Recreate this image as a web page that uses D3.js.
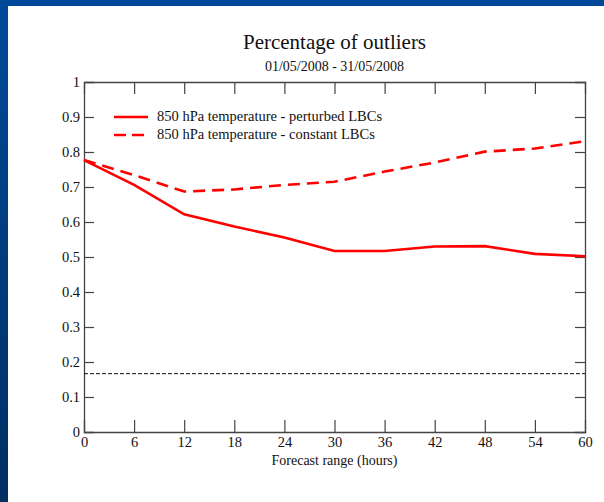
<!DOCTYPE html>
<html>
<head>
<meta charset="utf-8">
<script src="https://cdn.jsdelivr.net/npm/d3@7"></script>
<style>
  html, body { margin: 0; padding: 0; background: #fff; }
  svg { display: block; }
  text { font-family: "Liberation Serif", "DejaVu Serif", serif; fill: #111; }
</style>
</head>
<body>
<div id="chart"></div>
<script>
// forecast range (hours)
var hours = [0, 6, 12, 18, 24, 30, 36, 42, 48, 54, 60];
// 850 hPa temperature - perturbed LBCs
var perturbed = [0.777, 0.706, 0.622, 0.587, 0.556, 0.517, 0.517, 0.530, 0.531, 0.509, 0.502];
// 850 hPa temperature - constant LBCs
var constant = [0.777, 0.734, 0.687, 0.693, 0.706, 0.715, 0.744, 0.770, 0.801, 0.810, 0.831];
var refLevel = 1 / 6;
var xTicks = [0, 6, 12, 18, 24, 30, 36, 42, 48, 54, 60];
var yTicks = [0, 0.1, 0.2, 0.3, 0.4, 0.5, 0.6, 0.7, 0.8, 0.9, 1];
var seriesNames = ['850 hPa temperature - perturbed LBCs', '850 hPa temperature - constant LBCs'];

(function () {
  var width = 604, height = 502;
  var margin = {left: 84, right: 19, top: 82, bottom: 70};

  var svg = d3.select('#chart').append('svg')
    .attr('width', width)
    .attr('height', height);

  // slide background: blue frame at top and left
  var grad = svg.append('defs').append('linearGradient')
    .attr('id', 'leftband').attr('x1', 0).attr('y1', 0).attr('x2', 0).attr('y2', 1);
  grad.append('stop').attr('offset', '0%').attr('stop-color', '#00499a');
  grad.append('stop').attr('offset', '100%').attr('stop-color', '#002f62');
  svg.append('rect').attr('width', width).attr('height', height).attr('fill', '#fff');
  svg.append('rect').attr('width', width).attr('height', 6).attr('fill', '#00499a');
  svg.append('rect').attr('width', 8).attr('height', height).attr('fill', 'url(#leftband)');

  var x = d3.scaleLinear().domain([0, 60]).range([margin.left, width - margin.right]);
  var y = d3.scaleLinear().domain([0, 1]).range([height - margin.bottom, margin.top]);

  var axisColor = '#444';

  // title
  svg.append('text')
    .attr('x', (x(0) + x(60)) / 2).attr('y', 49)
    .attr('text-anchor', 'middle')
    .style('font-size', '21px')
    .text('Percentage of outliers');
  svg.append('text')
    .attr('x', (x(0) + x(60)) / 2).attr('y', 71)
    .attr('text-anchor', 'middle')
    .style('font-size', '14px')
    .text('01/05/2008 - 31/05/2008');

  // axes with inward ticks
  var gBottom = svg.append('g').attr('transform', 'translate(0,' + y(0) + ')')
    .call(d3.axisBottom(x).tickValues(xTicks).tickSize(-12).tickPadding(5).tickFormat(d3.format('d')));
  var gTop = svg.append('g').attr('transform', 'translate(0,' + y(1) + ')')
    .call(d3.axisTop(x).tickValues(xTicks).tickSize(-12).tickFormat(''));
  var gLeft = svg.append('g').attr('transform', 'translate(' + x(0) + ',0)')
    .call(d3.axisLeft(y).tickValues(yTicks).tickSize(-10).tickPadding(4).tickFormat(d3.format('')));
  var gRight = svg.append('g').attr('transform', 'translate(' + x(60) + ',0)')
    .call(d3.axisRight(y).tickValues(yTicks).tickSize(-10).tickFormat(''));

  [gBottom, gTop, gLeft, gRight].forEach(function (g) {
    g.select('.domain').attr('stroke', axisColor).attr('stroke-width', 1.3);
    g.selectAll('.tick line').attr('stroke', axisColor).attr('stroke-width', 1.2);
    g.selectAll('.tick text')
      .attr('font-family', '"Liberation Serif", serif')
      .attr('font-size', 14.5)
      .attr('fill', '#111');
  });
  // end ticks sit on the frame
  gBottom.selectAll('.tick line').filter(function (d) { return d === 0 || d === 60; }).remove();
  gTop.selectAll('.tick line').filter(function (d) { return d === 0 || d === 60; }).remove();
  gLeft.selectAll('.tick line').filter(function (d) { return d === 0 || d === 1; }).remove();
  gRight.selectAll('.tick line').filter(function (d) { return d === 0 || d === 1; }).remove();

  // x axis title
  svg.append('text')
    .attr('x', (x(0) + x(60)) / 2).attr('y', 465)
    .attr('text-anchor', 'middle')
    .style('font-size', '14px')
    .text('Forecast range (hours)');

  // reference level
  svg.append('line')
    .attr('x1', x(0)).attr('x2', x(60))
    .attr('y1', y(refLevel)).attr('y2', y(refLevel))
    .attr('stroke', '#111').attr('stroke-width', 1)
    .attr('stroke-dasharray', '4,2');

  var line = d3.line()
    .x(function (d, i) { return x(hours[i]); })
    .y(function (d) { return y(d); });

  svg.append('path').datum(perturbed)
    .attr('d', line)
    .attr('fill', 'none').attr('stroke', '#ff0000').attr('stroke-width', 2.6);

  svg.append('path').datum(constant)
    .attr('d', line)
    .attr('fill', 'none').attr('stroke', '#ff0000').attr('stroke-width', 2.6)
    .attr('stroke-dasharray', '12,7');

  // legend
  var legend = svg.append('g');
  seriesNames.forEach(function (name, i) {
    var ly = 117 + i * 18;
    legend.append('line')
      .attr('x1', 114).attr('x2', 148).attr('y1', ly).attr('y2', ly)
      .attr('stroke', '#ff0000').attr('stroke-width', 2.6)
      .attr('stroke-dasharray', i === 0 ? null : '12,6');
    legend.append('text')
      .attr('x', 157).attr('y', ly + 4)
      .style('font-size', '14.5px')
      .text(name);
  });
})();
</script>
</body>
</html>
